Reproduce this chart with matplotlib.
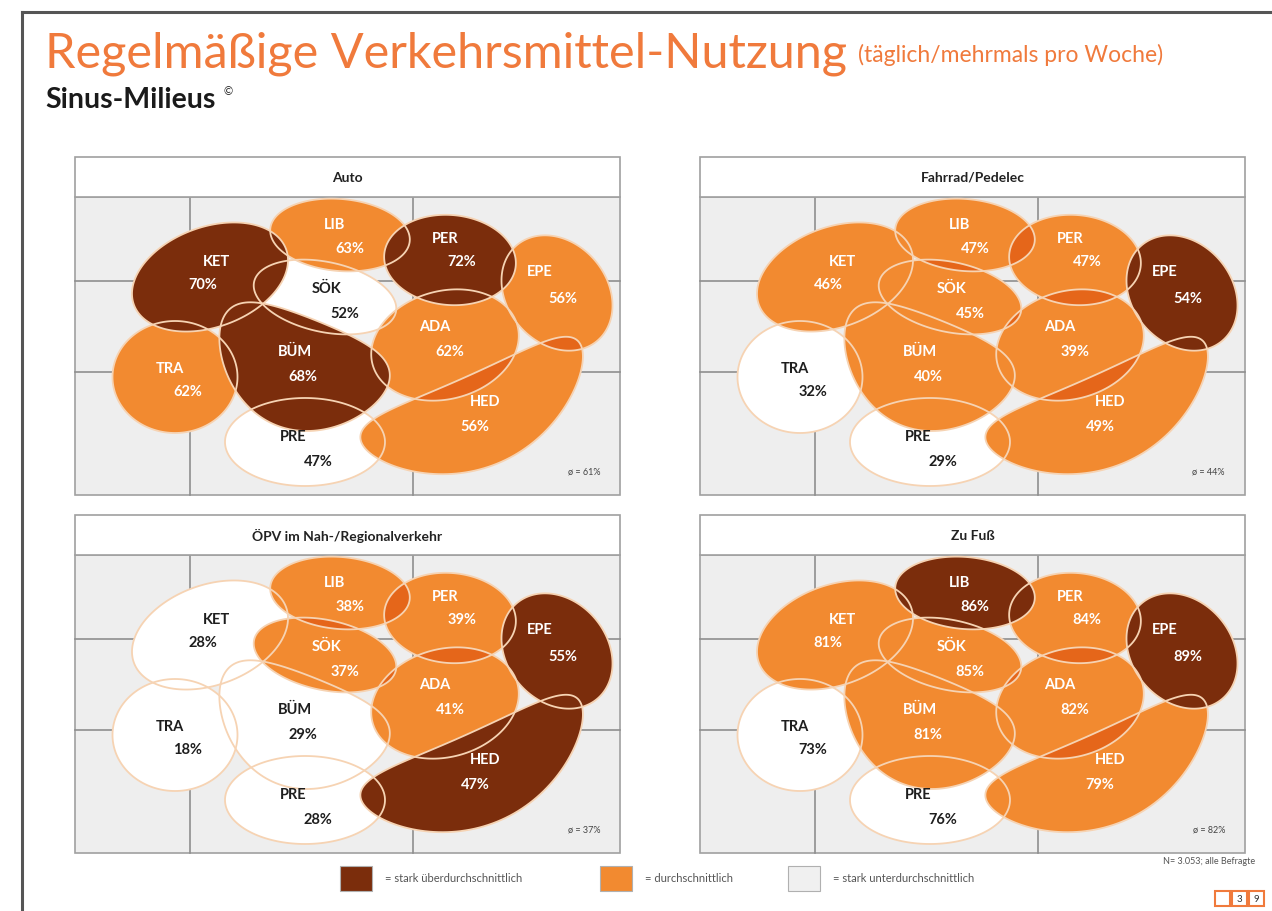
import numpy as np
import matplotlib.pyplot as plt
from matplotlib.patches import Polygon, Rectangle

plt.rcParams['font.family'] = ['Lato', 'DejaVu Sans']

# --- data -------------------------------------------------------------
milieus = ['KET', 'LIB', 'PER', 'EPE', 'SÖK', 'ADA', 'BÜM', 'TRA', 'PRE', 'HED']
panel_titles = ['Auto', 'Fahrrad/Pedelec', 'ÖPV im Nah-/Regionalverkehr', 'Zu Fuß']
averages = [61, 44, 37, 82]

auto = [70, 63, 72, 56, 52, 62, 68, 62, 47, 56]
fahrrad = [46, 47, 47, 54, 45, 39, 40, 32, 29, 49]
oepv = [28, 38, 39, 55, 37, 41, 29, 18, 28, 47]
zufuss = [81, 86, 84, 89, 85, 82, 81, 73, 76, 79]

# 2 = stark überdurchschnittlich, 1 = durchschnittlich, 0 = stark unterdurchschnittlich
auto_class = [2, 1, 2, 1, 0, 1, 2, 1, 0, 1]
fahrrad_class = [1, 1, 1, 2, 1, 1, 1, 0, 0, 1]
oepv_class = [0, 1, 1, 2, 1, 1, 0, 0, 0, 2]
zufuss_class = [1, 2, 1, 2, 1, 1, 1, 0, 0, 1]

legend_labels = ['= stark überdurchschnittlich', '= durchschnittlich',
                 '= stark unterdurchschnittlich']

# --- styling / map layout (pixels relative to the grid of a panel) ----
fill_col = {0: '#ffffff', 1: '#f28a30', 2: '#7b2d0c'}
text_col = {0: '#1e1e1e', 1: '#ffffff', 2: '#ffffff'}
overlap_col = '#e5661a'
edge_col = '#f6d3b3'

# cx, cy, width, height, angle, bend
shape_geo = {
    'KET': (135, 80, 162, 100, 20, 0),
    'LIB': (265, 38, 140, 72, -5, 0),
    'PER': (375, 63, 132, 90, -5, 0),
    'EPE': (482, 96, 125, 100, -50, 0),
    'SÖK': (250, 100, 145, 70, -12, 0),
    'ADA': (370, 148, 150, 108, 15, 0),
    'BÜM': (226, 166, 178, 112, -22, 22),
    'TRA': (100, 180, 125, 112, 0, 0),
    'PRE': (230, 245, 160, 88, 0, 0),
    'HED': (402, 210, 240, 92, 24, 28),
}
# same-class overlaps that get the darker shade
shaded_pairs = [('LIB', 'SÖK'), ('LIB', 'PER'), ('PER', 'ADA'), ('SÖK', 'ADA'),
                ('ADA', 'HED'), ('EPE', 'HED'), ('EPE', 'ADA'), ('PER', 'EPE')]
label_pos = {
    'KET': ((142, 65), (128, 88)),
    'LIB': ((260, 28), (275, 52)),
    'PER': ((370, 42), (387, 65)),
    'EPE': ((465, 75), (488, 102)),
    'SÖK': ((252, 92), (270, 117)),
    'BÜM': ((220, 155), (228, 180)),
    'TRA': ((95, 172), (113, 195)),
    'ADA': ((360, 130), (375, 155)),
    'HED': ((410, 205), (400, 230)),
    'PRE': ((218, 240), (243, 265)),
}

PW, TH, GH = 545, 40, 298
grid_x = [115, 338]
grid_y = [84, 175]


def blob(cx, cy, w, h, ang, bend, n=160):
    t = np.linspace(0, 2 * np.pi, n, endpoint=False)
    u = w / 2 * np.cos(t)
    v = h / 2 * np.sin(t) + bend * (np.cos(t) ** 2 - 0.5)
    a = np.deg2rad(ang)
    X = u * np.cos(a) - v * np.sin(a)
    Y = u * np.sin(a) + v * np.cos(a)
    return np.column_stack([cx + X, cy - Y])


fig = plt.figure(figsize=(12.72, 9.11), dpi=100)
ax = fig.add_axes([0, 0, 1, 1])
ax.set_xlim(0, 1272)
ax.set_ylim(911, 0)
ax.axis('off')

# frame
ax.plot([22, 1272], [12, 12], color='#555555', lw=2.2)
ax.plot([22, 22], [12, 911], color='#555555', lw=2.2)

ax.text(45, 68, 'Regelmäßige Verkehrsmittel-Nutzung', fontsize=35, color='#f07a3c')
ax.text(858, 62, '(täglich/mehrmals pro Woche)', fontsize=16.5, color='#f07a3c')
ax.text(45, 108, 'Sinus-Milieus', fontsize=20.5, fontweight='bold', color='#1a1a1a')
ax.text(224, 95, '©', fontsize=8, color='#1a1a1a')


def draw_panel(x0, y0, title, values, classes, avg):
    gx, gy = x0, y0 + TH
    ax.add_patch(Rectangle((gx, gy), PW, GH, facecolor='#eeeeee',
                           edgecolor='#a0a0a0', lw=1.2, zorder=1))
    for vx in grid_x:
        ax.plot([gx + vx] * 2, [gy, gy + GH], color='#8e8e8e', lw=1.2, zorder=1)
    for hy in grid_y:
        ax.plot([gx, gx + PW], [gy + hy] * 2, color='#8e8e8e', lw=1.2, zorder=1)
    ax.add_patch(Rectangle((x0, y0), PW, TH, facecolor='white',
                           edgecolor='#a0a0a0', lw=1.2, zorder=1))
    ax.text(x0 + PW / 2, y0 + TH / 2 + 1, title, ha='center', va='center',
            fontsize=10, fontweight='bold', color='#222222')

    pts = {}
    for m in milieus:
        cx, cy, w, h, ang, bend = shape_geo[m]
        pts[m] = blob(cx + gx, cy + gy, w, h, ang, bend)

    cls = dict(zip(milieus, classes))
    for level in (0, 1, 2):
        drawn = {}
        for m in milieus:
            if cls[m] != level:
                continue
            p = Polygon(pts[m], closed=True, facecolor=fill_col[level],
                        edgecolor='none', zorder=2 + level)
            ax.add_patch(p)
            drawn[m] = p
        if level == 1:
            for a, b in shaded_pairs:
                if a in drawn and b in drawn:
                    q = Polygon(pts[b], closed=True, facecolor=overlap_col,
                                edgecolor='none', zorder=2.5 + level)
                    ax.add_patch(q)
                    q.set_clip_path(drawn[a])

    for m in milieus:
        ax.add_patch(Polygon(pts[m], closed=True, fill=False, edgecolor=edge_col,
                             lw=1.3, zorder=6))

    for i, m in enumerate(milieus):
        (nx, ny), (px, py) = label_pos[m]
        c = text_col[classes[i]]
        ax.text(gx + nx, gy + ny, m, ha='center', va='center', fontsize=10.5,
                fontweight='bold', color=c, zorder=7)
        ax.text(gx + px, gy + py, f'{values[i]}%', ha='center', va='center',
                fontsize=10.5, fontweight='bold', color=c, zorder=7)

    ax.text(gx + 525, gy + 275, f'ø = {avg}%', ha='right', va='center',
            fontsize=6.5, color='#444444', zorder=7)


positions = [(75, 157), (700, 157), (75, 515), (700, 515)]
series = [auto, fahrrad, oepv, zufuss]
classes_all = [auto_class, fahrrad_class, oepv_class, zufuss_class]
for (x0, y0), t, vals, cls, avg in zip(positions, panel_titles, series, classes_all, averages):
    draw_panel(x0, y0, t, vals, cls, avg)

# legend
legend_fill = ['#7b2d0c', '#f28a30', '#f0f0f0']
legend_x = [340, 600, 788]
for lx, fc, lab in zip(legend_x, legend_fill, legend_labels):
    ax.add_patch(Rectangle((lx, 866), 32, 25, facecolor=fc, edgecolor='#b0b0b0', lw=0.8))
    ax.text(lx + 45, 879, lab, va='center', fontsize=8, color='#555555')

ax.text(1255, 862, 'N= 3.053; alle Befragte', ha='right', va='center',
        fontsize=6.5, color='#555555')

# page number boxes
for k, s in enumerate(['', '3', '9']):
    bx = 1215 + k * 17
    ax.add_patch(Rectangle((bx, 891), 15, 15, facecolor='white',
                           edgecolor='#f07a3c', lw=1.5))
    ax.text(bx + 7.5, 899, s, ha='center', va='center', fontsize=7, color='#333333')

fig.savefig('out.png', dpi=100)
